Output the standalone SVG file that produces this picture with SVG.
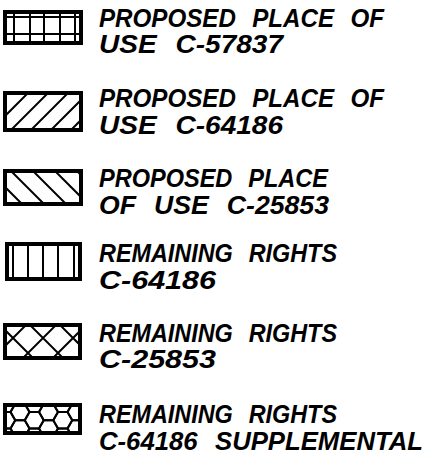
<svg xmlns="http://www.w3.org/2000/svg" xmlns:xlink="http://www.w3.org/1999/xlink" width="437" height="455" viewBox="0 0 437 455">
<style>
.t{font-family:"Liberation Sans",Arial,sans-serif;font-weight:bold;font-style:italic;font-size:25px;word-spacing:10px;fill:#000}
.b{fill:none;stroke:#000;stroke-width:4}
.h{fill:none;stroke:#000;stroke-width:2}
</style>
<defs>
<clipPath id="c1"><rect x="5" y="12" width="76" height="31"/></clipPath>
<clipPath id="c2"><rect x="5" y="93" width="76" height="37"/></clipPath>
<clipPath id="c3"><rect x="5" y="171" width="76" height="33"/></clipPath>
<clipPath id="c5"><rect x="5" y="325" width="75" height="33"/></clipPath>
<clipPath id="c6"><rect x="5" y="405" width="75" height="28"/></clipPath>
<polygon id="hx" points="9.5,0 4.75,8.23 -4.75,8.23 -9.5,0 -4.75,-8.23 4.75,-8.23"/>
</defs>
<rect width="437" height="455" fill="#fff"/>

<g id="legend1">
<g class="h" clip-path="url(#c1)">
<path d="M14,10V46M30,10V46M44,10V46M60,10V46M75,10V46M0,17H90M0,34H90"/>
</g>
<rect class="b" x="5" y="12" width="76" height="31"/>
<text class="t" x="99" y="27" textLength="285" lengthAdjust="spacingAndGlyphs">PROPOSED PLACE OF</text>
<text class="t" x="99" y="53" textLength="184" lengthAdjust="spacingAndGlyphs">USE C-57837</text>
</g>

<g id="legend2">
<g class="h" clip-path="url(#c2)">
<path d="M31,90L-14,135M51,90L6,135M71,90L26,135M91,90L46,135M111,90L66,135"/>
</g>
<rect class="b" x="5" y="93" width="76" height="37"/>
<text class="t" x="99" y="107" textLength="285" lengthAdjust="spacingAndGlyphs">PROPOSED PLACE OF</text>
<text class="t" x="99" y="134" textLength="184" lengthAdjust="spacingAndGlyphs">USE C-64186</text>
</g>

<g id="legend3">
<g class="h" clip-path="url(#c3)">
<path d="M-17,165L28,210M5,165L50,210M27,165L72,210M49,165L94,210M71,165L116,210"/>
</g>
<rect class="b" x="5" y="171" width="76" height="33"/>
<text class="t" x="99" y="187" textLength="229" lengthAdjust="spacingAndGlyphs">PROPOSED PLACE</text>
<text class="t" x="99" y="214" textLength="230" lengthAdjust="spacingAndGlyphs">OF USE C-25853</text>
</g>

<g id="legend4">
<path class="h" d="M13,244V279M28,244V279M43,244V279M58,244V279M74,244V279"/>
<rect class="b" x="7" y="244" width="73" height="35"/>
<text class="t" x="99" y="262" textLength="238" lengthAdjust="spacingAndGlyphs">REMAINING RIGHTS</text>
<text class="t" x="99" y="289" textLength="117" lengthAdjust="spacingAndGlyphs">C-64186</text>
</g>

<g id="legend5">
<g class="h" clip-path="url(#c5)">
<path d="M31,320L-9,360M61,320L21,360M91,320L51,360M121,320L81,360M-35,320L5,360M-5,320L35,360M25,320L65,360M55,320L95,360"/>
</g>
<rect class="b" x="5" y="325" width="75" height="33"/>
<text class="t" x="99" y="342" textLength="238" lengthAdjust="spacingAndGlyphs">REMAINING RIGHTS</text>
<text class="t" x="99" y="368" textLength="117" lengthAdjust="spacingAndGlyphs">C-25853</text>
</g>

<g id="legend6">
<g class="h" clip-path="url(#c6)">
<use xlink:href="#hx" x="20" y="412"/>
<use xlink:href="#hx" x="48.5" y="412"/>
<use xlink:href="#hx" x="77" y="412"/>
<use xlink:href="#hx" x="20" y="428.45"/>
<use xlink:href="#hx" x="48.5" y="428.45"/>
<use xlink:href="#hx" x="77" y="428.45"/>
<use xlink:href="#hx" x="5.75" y="403.78"/>
<use xlink:href="#hx" x="34.25" y="403.78"/>
<use xlink:href="#hx" x="62.75" y="403.78"/>
<use xlink:href="#hx" x="5.75" y="420.23"/>
<use xlink:href="#hx" x="34.25" y="420.23"/>
<use xlink:href="#hx" x="62.75" y="420.23"/>
<use xlink:href="#hx" x="5.75" y="436.68"/>
<use xlink:href="#hx" x="34.25" y="436.68"/>
<use xlink:href="#hx" x="62.75" y="436.68"/>
</g>
<rect class="b" x="5" y="405" width="75" height="28"/>
<text class="t" x="99" y="423" textLength="238" lengthAdjust="spacingAndGlyphs">REMAINING RIGHTS</text>
<text class="t" x="99" y="450" textLength="324" lengthAdjust="spacingAndGlyphs">C-64186 SUPPLEMENTAL</text>
</g>
</svg>
